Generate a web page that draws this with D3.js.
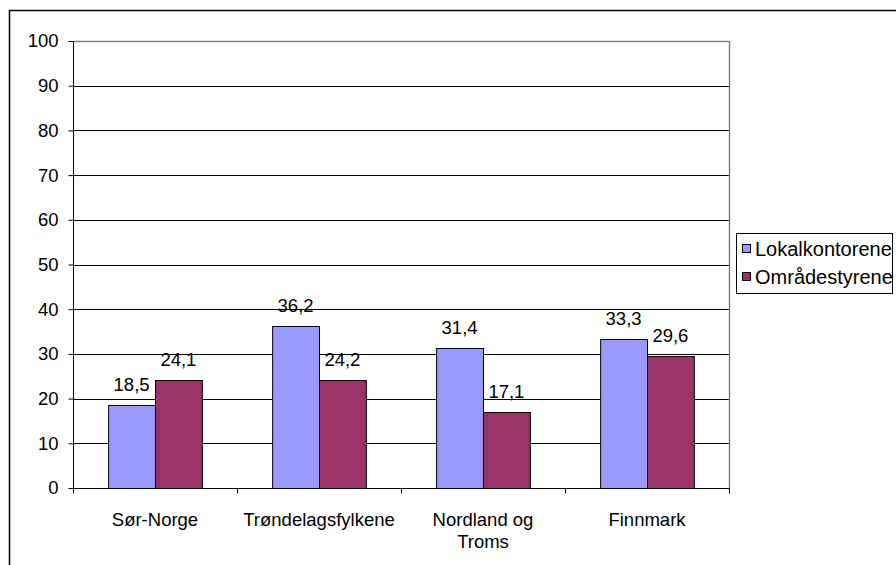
<!DOCTYPE html>
<html><head><meta charset="utf-8">
<script src="https://cdn.jsdelivr.net/npm/d3@7"></script>
<style>body{margin:0;background:#fff}svg{display:block;font-family:"Liberation Sans",Arial,sans-serif}</style>
</head><body>
<svg id="c" width="896" height="565"></svg>
<script>
const categories = [["Sør-Norge"], ["Trøndelagsfylkene"], ["Nordland og", "Troms"], ["Finnmark"]];
const seriesNames = ["Lokalkontorene", "Områdestyrene"];
const lokalkontorene = [18.5, 36.2, 31.4, 33.3];
const omradestyrene = [24.1, 24.2, 17.1, 29.6];
const yTicks = [0, 10, 20, 30, 40, 50, 60, 70, 80, 90, 100];
const colors = ["#9999FF", "#993366"];
const FS = 18.5;

const svg = d3.select("#c");
const L = 73, R = 729, T = 41, B = 488;
svg.append("rect").attr("x", 9.5).attr("y", 10.5).attr("width", 1000).attr("height", 1000)
  .attr("fill", "#fff").attr("stroke", "#000").attr("stroke-width", 1.5);

const x = d3.scaleBand().domain(d3.range(categories.length)).range([L, R]);
const y = d3.scaleLinear().domain([0, 100]).range([B, T]);
const series = [lokalkontorene, omradestyrene];
const inner = d3.scaleBand().domain([0, 1]).range([0, x.bandwidth()]).paddingOuter(0.75).paddingInner(0);

// gridlines
svg.append("g").selectAll("line").data(yTicks.filter(d => d > 0)).join("line")
  .attr("x1", L).attr("x2", R).attr("y1", d => Math.round(y(d)) + 0.5).attr("y2", d => Math.round(y(d)) + 0.5)
  .attr("stroke", d => d === 100 ? "#808080" : "#000").attr("stroke-width", d => d === 100 ? 1.5 : 1);
// right border
svg.append("line").attr("x1", R + 0.5).attr("x2", R + 0.5).attr("y1", T).attr("y2", B)
  .attr("stroke", "#808080").attr("stroke-width", 1.5);

// bars
series.forEach((s, si) => {
  svg.append("g").selectAll("rect").data(s).join("rect")
    .attr("x", (d, i) => x(i) + inner(si) + 0.5)
    .attr("y", d => Math.round(y(d)) + 0.5)
    .attr("width", inner.bandwidth())
    .attr("height", d => B - Math.round(y(d)))
    .attr("fill", colors[si]).attr("stroke", "#000").attr("stroke-width", 1);
  svg.append("g").selectAll("text").data(s).join("text")
    .attr("x", (d, i) => x(i) + inner(si) + inner.bandwidth() / 2)
    .attr("y", d => y(d) - 14)
    .attr("text-anchor", "middle").attr("font-size", FS).attr("fill", "#000")
    .text(d => d.toFixed(1).replace(".", ","));
});

// y axis
const ya = svg.append("g").attr("transform", `translate(${L + 0.5},0)`)
  .call(d3.axisLeft(y).tickValues(yTicks).tickSize(5).tickPadding(10).tickFormat(d3.format("d")));
ya.selectAll("text").attr("font-size", FS).attr("fill", "#000").attr("font-family", "Liberation Sans, Arial, sans-serif");
ya.selectAll("line,path").attr("stroke", "#000");
ya.select("path").attr("d", `M0,${B}V${T}`);

// x axis
const xa = svg.append("g").attr("transform", `translate(0,${B + 0.5})`);
xa.append("line").attr("x1", L).attr("x2", R + 1).attr("stroke", "#000");
xa.selectAll(".tk").data(d3.range(categories.length + 1)).join("line")
  .attr("x1", i => Math.round(i < categories.length ? x(i) : R) + 0.5)
  .attr("x2", i => Math.round(i < categories.length ? x(i) : R) + 0.5)
  .attr("y1", 0).attr("y2", 5).attr("stroke", "#000");
categories.forEach((lines, i) => {
  const t = xa.append("text").attr("x", x(i) + x.bandwidth() / 2).attr("y", 37.5)
    .attr("text-anchor", "middle").attr("font-size", FS).attr("fill", "#000");
  lines.forEach((ln, j) => t.append("tspan").attr("x", x(i) + x.bandwidth() / 2).attr("dy", j ? 22 : 0).text(ln));
});

// legend
svg.append("clipPath").attr("id", "lgclip").append("rect").attr("x", 0).attr("y", 0).attr("width", 893).attr("height", 565);
const lg = svg.append("g").attr("clip-path", "url(#lgclip)");
lg.append("rect").attr("x", 736.5).attr("y", 233.5).attr("width", 156).attr("height", 60)
  .attr("fill", "#fff").attr("stroke", "#000");
seriesNames.forEach((n, i) => {
  lg.append("rect").attr("x", 742.5).attr("y", 244.5 + i * 28).attr("width", 8).attr("height", 8)
    .attr("fill", colors[i]).attr("stroke", "#000");
  lg.append("text").attr("x", 755).attr("y", 255.5 + i * 28).attr("font-size", 20).attr("fill", "#000").text(n);
});
</script>
</body></html>
